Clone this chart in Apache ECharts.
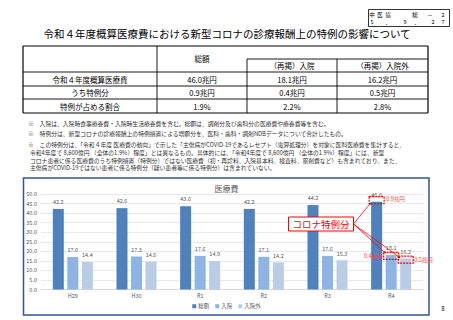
<!DOCTYPE html>
<html><head><meta charset="utf-8">
<script src="https://cdn.jsdelivr.net/npm/echarts@6/dist/echarts.min.js"></script>
<style>html,body{margin:0;padding:0;background:#fff;}#c{width:453px;height:320px;}</style>
</head><body><div id="c"></div>
<script>
const FONT = '"Noto Sans CJK JP","Noto Sans",sans-serif';
const title = '令和４年度概算医療費における新型コロナの診療報酬上の特例の影響について';
const headerTop = ['中','医','協','総','－','2'];
const headerBottom = ['5','．','9','．','2','7'];
const tableHead = ['総額','（再掲）入院','（再掲）入院外'];
const tableRows = [
  ['令和４年度概算医療費','46.0兆円','18.1兆円','16.2兆円'],
  ['うち特例分','0.9兆円','0.4兆円','0.5兆円'],
  ['特例が占める割合','1.9%','2.2%','2.8%']
];
const notes = [
  '※　入院は、入院時食事療養費・入院時生活療養費を含む。総額は、調剤分及び歯科分の医療費や療養費等を含む。',
  '※　特例分は、新型コロナの診療報酬上の特例措置による増額分を、医科・歯科・調剤NDBデータについて合計したもの。',
  '※　この特例分は、「令和４年度 医療費の動向」で示した「主傷病がCOVID-19であるレセプト（電算処理分）を対象に医科医療費を集計すると、',
  '令和4年度で 8,600億円 （全体の1.9%）程度」とは異なるもの。具体的には、「令和4年度で 8,600億円 （全体の1.9%）程度」には、新型',
  'コロナ患者に係る医療費のうち特例措置（特例分）ではない医療費（初・再診料、入院基本料、検査料、薬剤費など）も含まれており、また、',
  '主傷病がCOVID-19ではない患者に係る特例分（疑い患者等に係る特例分）は含まれていない。'
];
const chartTitle = '医療費';
const categories = ['H29','H30','R1','R2','R3','R4'];
const seriesNames = ['総額','入院','入院外'];
const totalVals = [42.2, 42.6, 43.6, 42.2, 44.2, 46.0];
const inpatientVals = [17.0, 17.3, 17.6, 17.1, 17.6, 18.1];
const outpatientVals = [14.4, 14.6, 14.9, 14.2, 15.3, 16.2];
const specialLabels = ['0.9兆円','0.4兆円','0.5兆円'];
const calloutText = 'コロナ特例分';
const pageNo = '8';

const colors = ['#4F81BD','#8EB4E3','#B9CDE5'];
const RED = '#FF0000';

const chart = echarts.init(document.getElementById('c'), null, {renderer:'svg'});

const g = [];
// chart box (drawn first, no fill)
g.push({type:'rect', z:-10, shape:{x:23.5,y:178,width:405.5,height:137}, style:{fill:'none',stroke:'#2F5597',lineWidth:1.5}});
// header box
g.push({type:'rect', shape:{x:368.5,y:9.5,width:81,height:17}, style:{fill:'#fff',stroke:'#000',lineWidth:0.8}});
const hx = [372,380,388,415,430,443];
const hx2 = [372,388,405,417,433,443];
headerTop.forEach((t,i)=>g.push({type:'text', x:hx[i], y:14.5, style:{text:t,fontSize:5.5,fontFamily:FONT,fill:'#000',align:'center',verticalAlign:'middle'}}));
headerBottom.forEach((t,i)=>g.push({type:'text', x:hx2[i], y:22, style:{text:t,fontSize:5.5,fontFamily:FONT,fill:'#000',align:'center',verticalAlign:'middle'}}));
// title
g.push({type:'text', x:227, y:33, style:{text:title,fontSize:10.5,fontFamily:FONT,fill:'#000',align:'center',verticalAlign:'middle'}});
// table
const colX = [23,157,247,337,428];
const rowY = [46,59,72,86,99,113];
const L = (x1,y1,x2,y2,w)=>g.push({type:'line', shape:{x1,y1,x2,y2}, style:{stroke:'#000',lineWidth:w||0.9}});
L(colX[0],rowY[0],colX[4],rowY[0],1.2);
L(colX[0],rowY[5],colX[4],rowY[5],1.2);
L(colX[0],rowY[0],colX[0],rowY[5],1.2);
L(colX[4],rowY[0],colX[4],rowY[5],1.2);
L(colX[1],rowY[0],colX[1],rowY[5]);
L(colX[2],rowY[1],colX[2],rowY[5]);
L(colX[3],rowY[1],colX[3],rowY[5]);
L(colX[2],rowY[1],colX[4],rowY[1]);
L(colX[0],rowY[2],colX[4],rowY[2]);
L(colX[0],rowY[3],colX[4],rowY[3]);
L(colX[0],rowY[4],colX[4],rowY[4]);
const T = (t,x,y,fs,fill,align)=>g.push({type:'text', x, y, style:{text:t,fontSize:fs,fontFamily:FONT,fill:fill||'#000',align:align||'center',verticalAlign:'middle'}});
T(tableHead[0],(colX[1]+colX[2])/2,58,7.5);
T(tableHead[1],(colX[2]+colX[3])/2,65.5,7.5);
T(tableHead[2],(colX[3]+colX[4])/2,65.5,7.5);
tableRows.forEach((r,ri)=>{
  const cy=(rowY[ri+2]+rowY[ri+3])/2;
  r.forEach((c,ci)=>T(c,(colX[ci]+colX[ci+1])/2,cy,7.5));
});
// notes
const noteY=[123,133,144,152,160,167.5];
notes.forEach((n,i)=>g.push({type:'text', x:i<3?28:30, y:noteY[i], style:{text:n,fontSize:5.8,fontFamily:FONT,fill:'#333',align:'left',verticalAlign:'middle'}}));
// page number
T(pageNo,443,308,6,'#000');

const option = {
  animation:false,
  backgroundColor:'#fff',
  color: colors,
  textStyle:{fontFamily:FONT},
  title:{text:chartTitle, left:'center', top:179, textStyle:{fontSize:8,fontWeight:'normal',color:'#595959',fontFamily:FONT}},
  legend:{bottom:6, left:'center', itemWidth:4, itemHeight:4, itemGap:6, icon:'rect',
    textStyle:{fontSize:5.5,color:'#595959',fontFamily:FONT,padding:[0,0,0,-3]}, data:seriesNames},
  grid:{left:41, right:30, top:194, bottom:30.5, containLabel:false},
  xAxis:{type:'category', data:categories,
    axisLine:{lineStyle:{color:'#D9D9D9'}}, axisTick:{show:false},
    axisLabel:{fontSize:5.5,color:'#595959',margin:4,fontFamily:FONT}},
  yAxis:{type:'value', min:0, max:50, interval:5,
    axisLabel:{show:true,fontSize:5.5,color:'#595959',margin:4,formatter:v=>v.toFixed(1),fontFamily:FONT},
    splitLine:{lineStyle:{color:'#E3E3E3',width:0.8}}, axisLine:{show:false}, axisTick:{show:false}},
  series:[totalVals,inpatientVals,outpatientVals].map((d,i)=>({
    name:seriesNames[i], type:'bar', data:d, barWidth:11, barGap:'32%',
    label:{show:true, position:'top', distance:4, fontSize:5.5, color:'#595959', fontFamily:FONT, formatter:p=>p.value.toFixed(1)}
  })),
  graphic:g
};
chart.setOption(option);

const lastIdx = categories.length-1;
const vals = [totalVals[lastIdx], inpatientVals[lastIdx], outpatientVals[lastIdx]];
const step = 11*1.32;
const pts = vals.map((v,i)=>{
  const p = chart.convertToPixel({gridIndex:0},[categories[lastIdx], v]);
  return [p[0]+(i-1)*step, p[1]];
});
const a = [];
const rw=15, rh=7;
const rects = pts.map((p,i)=>{
  const cy = i===0 ? p[1]-1.5 : p[1]+1;
  return {x:p[0]-rw/2, y:cy-rh/2, cx:p[0], cy};
});
const cb = {x:288.5, y:217, w:65, h:14};
const ox = cb.x+cb.w, oy = cb.y+cb.h/2;
const ends = [[rects[0].x+1,rects[0].y+rh],[rects[1].x+1,rects[1].y],[rects[2].x+1,rects[2].y+1]];
ends.forEach(p=>{
  a.push({type:'line', z:100, shape:{x1:ox,y1:oy,x2:p[0],y2:p[1]}, style:{stroke:RED,lineWidth:0.8}});
  a.push({type:'circle', z:100, shape:{cx:p[0],cy:p[1],r:1}, style:{fill:RED}});
});
rects.forEach(r=>a.push({type:'rect', z:101, shape:{x:r.x,y:r.y,width:rw,height:rh}, style:{fill:'none',stroke:RED,lineWidth:1.2,lineDash:[2,1]}}));
a.push({type:'rect', z:102, shape:{x:cb.x,y:cb.y,width:cb.w,height:cb.h}, style:{fill:'#fff',stroke:RED,lineWidth:1}});
a.push({type:'text', z:103, x:cb.x+cb.w/2, y:cb.y+cb.h/2, style:{text:calloutText,fontSize:9.5,fontFamily:FONT,fill:RED,align:'center',verticalAlign:'middle'}});
a.push({type:'text', z:103, x:rects[0].x+rw+2, y:rects[0].cy-1, style:{text:specialLabels[0],fontSize:5.5,fontFamily:FONT,fill:'#FF4040',align:'left',verticalAlign:'middle'}});
a.push({type:'text', z:103, x:rects[1].x-1, y:rects[1].cy, style:{text:specialLabels[1],fontSize:5.5,fontFamily:FONT,fill:'#FF4040',align:'right',verticalAlign:'middle'}});
a.push({type:'text', z:103, x:rects[2].x+rw+1, y:rects[2].cy, style:{text:specialLabels[2],fontSize:5.5,fontFamily:FONT,fill:'#FF4040',align:'left',verticalAlign:'middle'}});
chart.setOption({graphic:g.concat(a)});
</script></body></html>
